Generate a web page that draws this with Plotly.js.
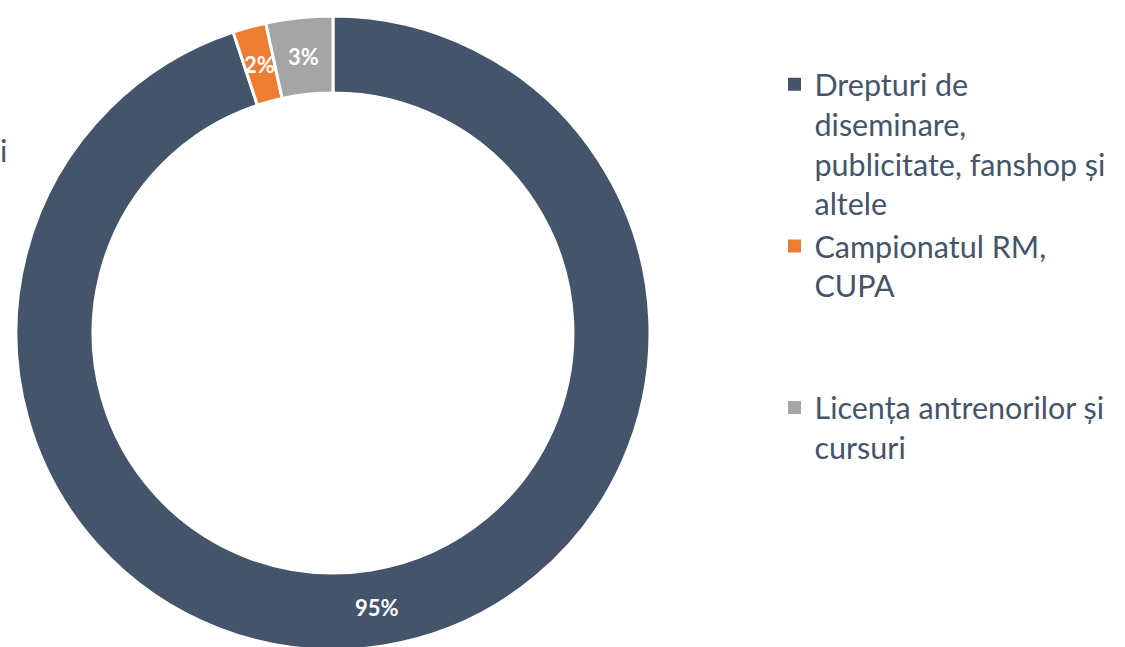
<!DOCTYPE html>
<html>
<head>
<meta charset="utf-8">
<script src="https://cdn.plot.ly/plotly-3.0.1.min.js"></script>
<style>
html,body{margin:0;padding:0;overflow:hidden;background:#fff;}
#chart{width:1125px;height:660px;}
</style>
</head>
<body>
<div id="chart"></div>
<script>
var categories = [
  "Drepturi de<br>diseminare,<br>publicitate, fanshop și<br>altele",
  "Campionatul RM,<br>CUPA<br> <br> ",
  "Licența antrenorilor și<br>cursuri"
];
var values = [94.9, 1.7, 3.4];
var percentLabels = ["95%", "2%", "3%"];
var colors = ["#44546A", "#ED7D31", "#A5A5A5"];

var W = 1125, H = 660, T = 16, B = 10;
var plotW = W, plotH = H - T - B;
var domX = [16 / W, 650 / W], domY = [0, 1];
var hole = 0.757;

var traces = [{
  type: "pie",
  labels: categories,
  values: values,
  sort: false,
  direction: "clockwise",
  rotation: 0,
  hole: hole,
  marker: {colors: colors, line: {color: "#ffffff", width: 3}},
  textinfo: "none",
  domain: {x: domX, y: domY},
  showlegend: false,
  hoverinfo: "label+percent"
}];

// legend entries (square swatches) for each category
categories.forEach(function (c, i) {
  traces.push({
    type: "scatter", mode: "markers",
    x: [null], y: [null],
    name: c,
    marker: {symbol: "square", size: 13, color: colors[i]},
    showlegend: true, hoverinfo: "skip"
  });
});

// percentage labels at the middle of each ring segment
var total = values.reduce(function (a, b) { return a + b; }, 0);
var cxPx = (domX[0] + domX[1]) / 2 * plotW;
var cyPx = (domY[0] + domY[1]) / 2 * plotH;
var R = Math.min((domX[1] - domX[0]) * plotW, (domY[1] - domY[0]) * plotH) / 2;
var rMid = R * (1 + hole) / 2;
var annotations = [];
var cum = 0;
values.forEach(function (v, i) {
  var mid = (cum + v / 2) / total;
  cum += v;
  var ang = 2 * Math.PI * mid;
  annotations.push({
    text: percentLabels[i],
    xref: "paper", yref: "paper",
    x: (cxPx + rMid * Math.sin(ang)) / plotW,
    y: (cyPx + rMid * Math.cos(ang)) / plotH,
    xanchor: "center", yanchor: "middle",
    showarrow: false,
    font: {family: "Lato, sans-serif", size: 22, color: "#ffffff", weight: "bold"}
  });
});
annotations.push({
  text: "i", xref: "paper", yref: "paper",
  x: -2 / W, xanchor: "left",
  y: 1 - (150 - T) / plotH, yanchor: "middle",
  showarrow: false,
  font: {family: "Lato, sans-serif", size: 30.5, color: "#44546A"}
});

var layout = {
  width: W,
  height: H,
  margin: {l: 0, r: 0, t: T, b: B},
  paper_bgcolor: "#ffffff",
  plot_bgcolor: "#ffffff",
  font: {family: "Lato, sans-serif", color: "#44546A"},
  xaxis: {visible: false, showgrid: false, zeroline: false},
  yaxis: {visible: false, showgrid: false, zeroline: false},
  showlegend: true,
  legend: {
    x: 774.5 / W, xanchor: "left",
    y: 1 - (58 - T) / plotH, yanchor: "top",
    valign: "top",
    font: {family: "Lato, sans-serif", size: 30.5, color: "#44546A"},
    bgcolor: "rgba(0,0,0,0)",
    traceorder: "normal"
  },
  annotations: annotations
};

Plotly.newPlot("chart", traces, layout, {displayModeBar: false, staticPlot: true});
</script>
</body>
</html>
